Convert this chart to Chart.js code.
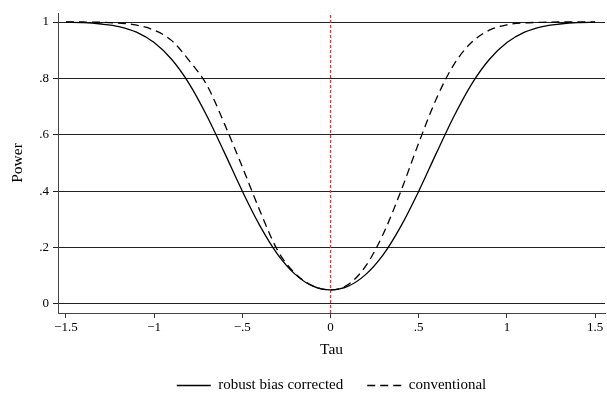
<!DOCTYPE html>
<html>
<head>
<meta charset="utf-8">
<script src="https://cdn.jsdelivr.net/npm/chart.js@4"></script>
<style>html,body{margin:0;padding:0;background:#fff}</style>
</head>
<body>
<canvas id="powerChart" width="607" height="396"></canvas>
<script>
// ------------------------------------------------------------
// Data (power curves vs tau)
// ------------------------------------------------------------
const tau = [-1.5, -1.4, -1.3, -1.2, -1.1, -1.0, -0.9, -0.8, -0.7, -0.6, -0.5,
  -0.4, -0.3, -0.2, -0.1, 0, 0.1, 0.2, 0.3, 0.4, 0.5,
  0.6, 0.7, 0.8, 0.9, 1.0, 1.1, 1.2, 1.3, 1.4, 1.5];

const robustPower = [0.999, 0.998, 0.993, 0.984, 0.964, 0.927, 0.867, 0.780, 0.666, 0.535, 0.400,
  0.277, 0.176, 0.105, 0.063, 0.050, 0.063, 0.105, 0.176, 0.277, 0.400,
  0.535, 0.666, 0.780, 0.867, 0.927, 0.964, 0.984, 0.993, 0.998, 0.999];

const conventionalPower = [1.000, 1.000, 0.999, 0.996, 0.989, 0.971, 0.934, 0.862, 0.775, 0.637, 0.486,
  0.330, 0.190, 0.108, 0.064, 0.050, 0.069, 0.135, 0.250, 0.402, 0.571,
  0.728, 0.850, 0.928, 0.971, 0.990, 0.997, 0.999, 1.000, 1.000, 1.000];

const refTau = 0; // true value, red reference line

const seriesLabels = ["robust bias corrected", "conventional"];

const xTicks = [-1.5, -1, -0.5, 0, 0.5, 1, 1.5];
const xTickLabels = ["\u22121.5", "\u22121", "\u2212.5", "0", ".5", "1", "1.5"];
const yTicks = [0, 0.2, 0.4, 0.6, 0.8, 1];
const yTickLabels = ["0", ".2", ".4", ".6", ".8", "1"];

const xRange = [-1.545, 1.556];
const yRange = [-0.032, 1.032];

// ------------------------------------------------------------
// Chart
// ------------------------------------------------------------
const serif = "'Liberation Serif', 'Times New Roman', serif";
const toPoints = (ys) => tau.map((t, i) => ({ x: t, y: ys[i] }));

const ctx = document.getElementById("powerChart").getContext("2d");

new Chart(ctx, {
  type: "line",
  data: {
    datasets: [
      {
        label: seriesLabels[0],
        data: toPoints(robustPower),
        borderColor: "#000",
        borderWidth: 1.3,
        pointRadius: 0,
        cubicInterpolationMode: "monotone",
        fill: false,
      },
      {
        label: seriesLabels[1],
        data: toPoints(conventionalPower),
        borderColor: "#000",
        borderWidth: 1.3,
        borderDash: [8, 5],
        pointRadius: 0,
        cubicInterpolationMode: "monotone",
        fill: false,
      },
      {
        label: "ref",
        data: [{ x: refTau, y: yRange[0] }, { x: refTau, y: yRange[1] }],
        borderColor: "#ff2a2a",
        borderWidth: 1.3,
        borderDash: [3, 2],
        pointRadius: 0,
        fill: false,
      },
    ],
  },
  options: {
    responsive: false,
    animation: false,
    layout: { padding: { top: 13, right: 2, left: 0, bottom: -7 } },
    scales: {
      x: {
        type: "linear",
        min: xRange[0],
        max: xRange[1],
        afterBuildTicks: (s) => { s.ticks = xTicks.map((v) => ({ value: v })); },
        afterFit: (s) => { s.height = 41; },
        ticks: {
          color: "#000",
          font: { family: serif, size: 13 },
          padding: 2,
          maxRotation: 0,
          autoSkip: false,
          callback: (v, i) => xTickLabels[i],
        },
        grid: {
          drawOnChartArea: false,
          drawTicks: true,
          tickLength: 5,
          color: "#333",
        },
        border: { display: true, color: "#444", width: 1 },
        title: {
          display: true,
          text: "Tau",
          color: "#000",
          font: { family: serif, size: 15.5 },
          padding: { top: 0, bottom: -5 },
        },
      },
      y: {
        type: "linear",
        min: yRange[0],
        max: yRange[1],
        afterBuildTicks: (s) => { s.ticks = yTicks.map((v) => ({ value: v })); },
        afterFit: (s) => { s.width = 58; },
        ticks: {
          color: "#000",
          font: { family: serif, size: 13 },
          padding: 4,
          autoSkip: false,
          callback: (v, i) => yTickLabels[i],
        },
        grid: {
          color: "#222",
          lineWidth: 1,
          tickLength: 5,
        },
        border: { display: true, color: "#444", width: 1 },
        title: {
          display: true,
          text: "Power",
          color: "#000",
          font: { family: serif, size: 15.5 },
          padding: { top: 9, bottom: 4 },
        },
      },
    },
    plugins: {
      tooltip: { enabled: false },
      legend: {
        position: "bottom",
        fullSize: false,
        labels: {
          color: "#000",
          font: { family: serif, size: 15 },
          padding: 24,
          usePointStyle: true,
          pointStyleWidth: 34,
          generateLabels: (chart) =>
            chart.data.datasets.slice(0, 2).map((d, i) => ({
              text: d.label,
              datasetIndex: i,
              fillStyle: "#000",
              strokeStyle: "#000",
              lineWidth: 1.3,
              lineDash: d.borderDash || [],
              pointStyle: "line",
              fontColor: "#000",
              hidden: false,
            })),
        },
      },
    },
  },
});
</script>
</body>
</html>
